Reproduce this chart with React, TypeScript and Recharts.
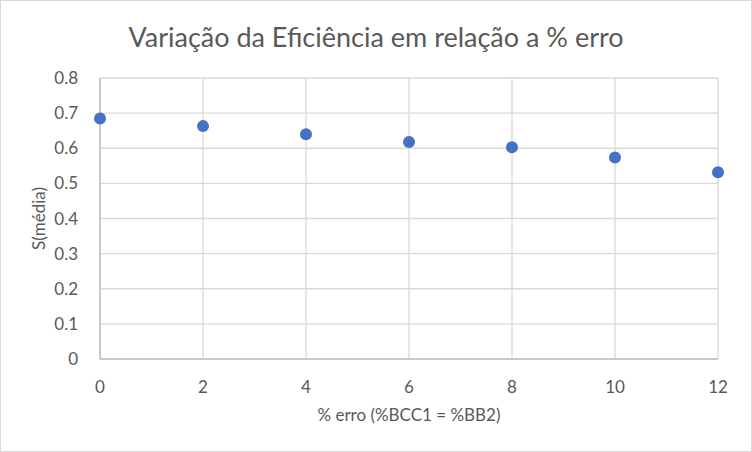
import { ScatterChart, Scatter, XAxis, YAxis, CartesianGrid } from "recharts";

const erro = [0, 2, 4, 6, 8, 10, 12];
const sMedia = [0.685, 0.663, 0.64, 0.618, 0.603, 0.574, 0.532];
const xTicks = [0, 2, 4, 6, 8, 10, 12];
const yTicks = [0, 0.1, 0.2, 0.3, 0.4, 0.5, 0.6, 0.7, 0.8];

const data = erro.map((x, i) => ({ x, y: sMedia[i] }));

const font = "Lato, 'Open Sans', sans-serif";
const grey = "#595959";

const Dot = (props: any) => (
  <circle cx={props.cx} cy={props.cy} r={6} fill="#4472c4" />
);

export default function App() {
  return (
    <div
      style={{
        position: "absolute",
        left: 0,
        top: 0,
        width: 750,
        height: 450,
        border: "1px solid #d9d9d9",
        background: "#fff",
        fontFamily: font,
      }}
    >
      <div
        style={{
          position: "absolute",
          top: 19,
          left: 0,
          width: 750,
          textAlign: "center",
          fontSize: 27,
          color: grey,
        }}
      >
        Variação da Eficiência em relação a % erro
      </div>
      <ScatterChart
        width={750}
        height={450}
        margin={{ top: 77, right: 33, bottom: 0, left: 0 }}
      >
        <CartesianGrid stroke="#d9d9d9" strokeWidth={1.3} />
        <XAxis
          type="number"
          dataKey="x"
          domain={[0, 12]}
          ticks={xTicks}
          interval={0}
          tickLine={false}
          axisLine={{ stroke: "#bfbfbf", strokeWidth: 1.5 }}
          tick={{ fill: grey, fontSize: 17, fontFamily: font }}
          tickMargin={16}
          height={92}
          label={{
            value: "% erro (%BCC1 = %BB2)",
            position: "insideTop",
            offset: 50,
            fill: grey,
            fontSize: 17,
            fontFamily: font,
          }}
        />
        <YAxis
          type="number"
          dataKey="y"
          domain={[0, 0.8]}
          ticks={yTicks}
          interval={0}
          tickFormatter={(v: number) => String(Number(v.toFixed(1)))}
          tickLine={false}
          axisLine={{ stroke: "#bfbfbf", strokeWidth: 1.5 }}
          tick={{ fill: grey, fontSize: 17, fontFamily: font }}
          tickMargin={16}
          width={99}
          label={{
            value: "S(média)",
            angle: -90,
            position: "insideLeft",
            offset: 38,
            style: { textAnchor: "middle" },
            fill: grey,
            fontSize: 17,
            fontFamily: font,
          }}
        />
        <Scatter data={data} shape={Dot} isAnimationActive={false} />
      </ScatterChart>
    </div>
  );
}
